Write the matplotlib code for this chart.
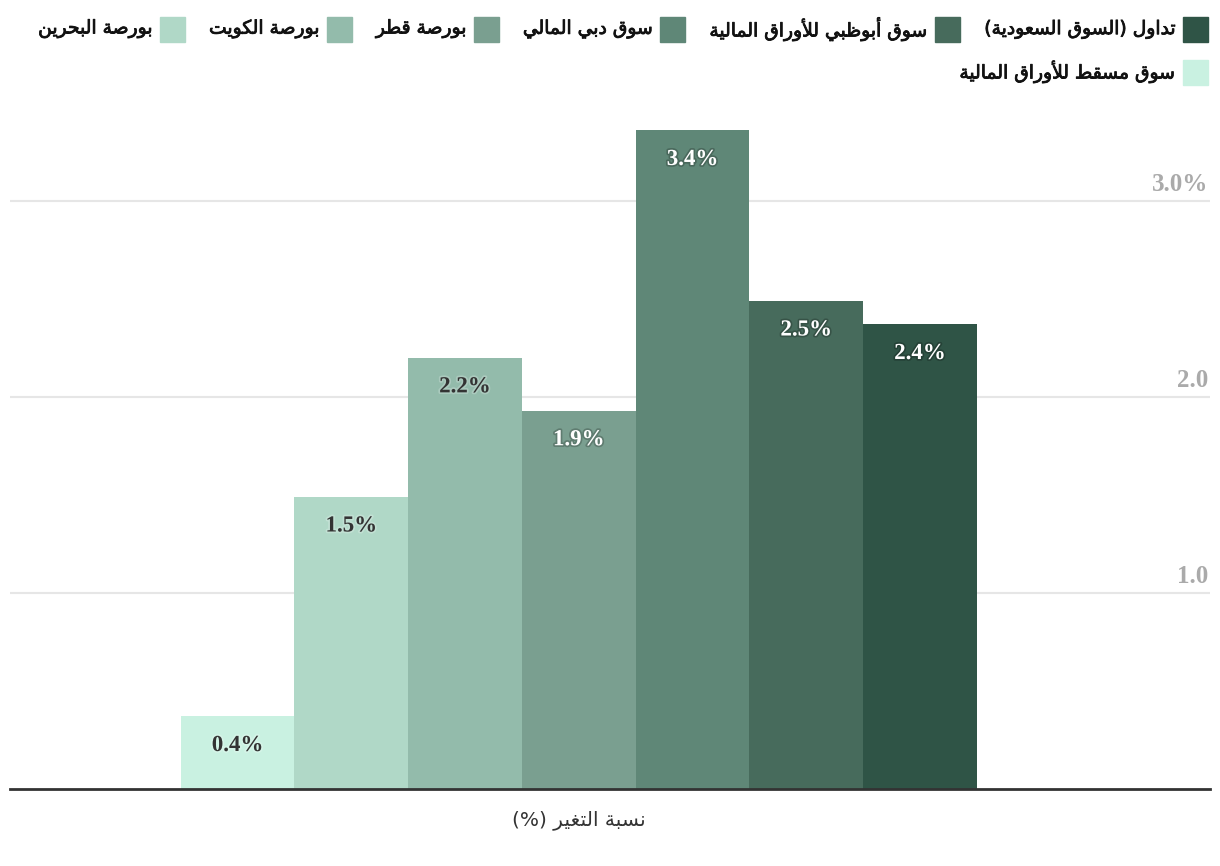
import matplotlib
matplotlib.use("Agg")
import matplotlib.pyplot as plt
import matplotlib.patheffects as pe
from matplotlib.patches import Rectangle
import matplotlib.transforms as mtransforms

# series, in legend order (right to left)
markets = ["تداول (السوق السعودية)", "سوق أبوظبي للأوراق المالية", "سوق دبي المالي",
           "بورصة قطر", "بورصة الكويت", "بورصة البحرين", "سوق مسقط للأوراق المالية"]
changes = [2.37, 2.49, 3.36, 1.93, 2.20, 1.49, 0.37]
colors = ["#2f5446", "#476b5c", "#5f8777", "#7a9f90", "#93bbab", "#b0d8c7", "#c9f1e1"]
label_colors = ["white", "white", "white", "white", "#333333", "#333333", "#333333"]
yticks = [1.0, 2.0, 3.0]
ytick_labels = ["1.0", "2.0", "3.0%"]
category = "نسبة التغير (%)"

# --- minimal arabic shaping (presentation forms + visual order) ---
DUAL = {'ئ': 0xFE89, 'ب': 0xFE8F, 'ت': 0xFE95, 'ث': 0xFE99, 'ج': 0xFE9D, 'ح': 0xFEA1,
        'خ': 0xFEA5, 'س': 0xFEB1, 'ش': 0xFEB5, 'ص': 0xFEB9, 'ض': 0xFEBD, 'ط': 0xFEC1,
        'ظ': 0xFEC5, 'ع': 0xFEC9, 'غ': 0xFECD, 'ف': 0xFED1, 'ق': 0xFED5, 'ك': 0xFED9,
        'ل': 0xFEDD, 'م': 0xFEE1, 'ن': 0xFEE5, 'ه': 0xFEE9, 'ي': 0xFEF1}
RIGHT = {'آ': 0xFE81, 'أ': 0xFE83, 'ؤ': 0xFE85, 'إ': 0xFE87, 'ا': 0xFE8D, 'ة': 0xFE93,
         'د': 0xFEA9, 'ذ': 0xFEAB, 'ر': 0xFEAD, 'ز': 0xFEAF, 'و': 0xFEED}
LAMALEF = {'آ': 0xFEF5, 'أ': 0xFEF7, 'إ': 0xFEF9, 'ا': 0xFEFB}


def shape(s):
    toks = []
    i = 0
    while i < len(s):
        if s[i] == 'ل' and i + 1 < len(s) and s[i + 1] in LAMALEF:
            toks.append(('LA', s[i + 1]))
            i += 2
        else:
            toks.append(('C', s[i]))
            i += 1

    def joins_prev(t):
        return t[0] == 'LA' or t[1] in DUAL or t[1] in RIGHT

    def joins_next(t):
        return t[0] == 'C' and t[1] in DUAL

    out = []
    for k, t in enumerate(toks):
        prev = toks[k - 1] if k > 0 else None
        nxt = toks[k + 1] if k + 1 < len(toks) else None
        p = prev is not None and joins_next(prev) and joins_prev(t)
        n = nxt is not None and joins_next(t) and joins_prev(nxt)
        if t[0] == 'LA':
            out.append(chr(LAMALEF[t[1]] + (1 if p else 0)))
        elif t[1] in DUAL:
            off = 3 if (p and n) else 1 if p else 2 if n else 0
            out.append(chr(DUAL[t[1]] + off))
        elif t[1] in RIGHT:
            out.append(chr(RIGHT[t[1]] + (1 if p else 0)))
        else:
            out.append(t[1])
    vis = ''.join(reversed(out))
    return vis.translate(str.maketrans('()', ')('))


W, H = 1220, 866
fig = plt.figure(figsize=(W / 100, H / 100), dpi=100)
ax = fig.add_axes([10 / W, 77 / H, 1200 / W, (789 - 103) / H])

xs = [3 - i for i in range(len(markets))]
bars = ax.bar(xs, changes, width=1.0, color=colors, zorder=2)

ax.set_xlim(-5.0, 5.55)
ax.set_ylim(0, 3.5)
ax.set_yticks(yticks)
ax.set_yticklabels([])
ax.tick_params(axis='both', length=0)
ax.set_xticks([])
ax.grid(axis='y', color='#e6e6e6', linewidth=1.5, zorder=0)
for side in ['top', 'left', 'right']:
    ax.spines[side].set_visible(False)
ax.spines['bottom'].set_color('#333333')
ax.spines['bottom'].set_linewidth(2)
ax.spines['bottom'].set_zorder(3)

# y labels inside, above the grid lines, right side
trans = mtransforms.blended_transform_factory(ax.transAxes, ax.transData)
for v, lab in zip(yticks, ytick_labels):
    ax.text(0.9985, v, lab, transform=trans + mtransforms.ScaledTranslation(0, 5 / 100, fig.dpi_scale_trans),
            ha='right', va='bottom', fontsize=18, fontweight='bold',
            family='Liberation Serif', color='#aaaaaa')

# data labels
for x, v, lc in zip(xs, changes, label_colors):
    glow = '#000000' if lc == 'white' else '#ffffff'
    ax.annotate(f"{v:.1f}%", (x, v), xytext=(0, -29), textcoords='offset pixels',
                ha='center', va='center', fontsize=16.5, fontweight='bold',
                family='Liberation Serif', color=lc, zorder=4,
                path_effects=[pe.withStroke(linewidth=2.5, foreground=glow, alpha=0.22)])

# category label
ax.text(0, -0.16, shape(category), transform=ax.transData, ha='center', va='center',
        fontsize=14.5, family='DejaVu Sans', color='#333333')

# legend, right to left flow
renderer = fig.canvas.get_renderer()
sq = 25
x_right = 1208
row_y = [29, 72]
row = 0
x = x_right
for name, c in zip(markets, colors):
    t = fig.text(0, 0, shape(name), fontsize=13.5, family='DejaVu Sans',
                 color='#111111', ha='right', va='center',
                 path_effects=[pe.withStroke(linewidth=0.6, foreground='#111111')])
    tw = t.get_window_extent(renderer).width
    need = sq + 7 + tw
    if x - need < 10:
        row += 1
        x = x_right
    yc = H - row_y[row]
    fig.patches.append(Rectangle(((x - sq) / W, (yc - sq / 2) / H), sq / W, sq / H,
                                 transform=fig.transFigure, color=c, figure=fig))
    t.set_position(((x - sq - 7) / W, yc / H))
    x = x - need - 24

fig.savefig("out.png", dpi=100)
